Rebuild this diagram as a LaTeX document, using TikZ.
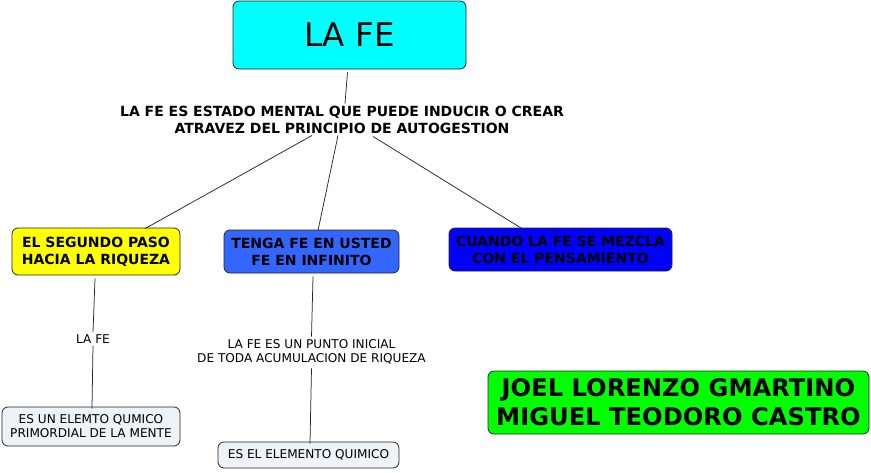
\documentclass[tikz,border=0pt]{standalone}
\usepackage{fontspec}
\setmainfont{DejaVu Sans}
\usetikzlibrary{calc}
\definecolor{cyanbox}{HTML}{00FFFF}
\definecolor{yellowbox}{HTML}{FFFF00}
\definecolor{bluebox}{HTML}{3366FF}
\definecolor{darkbluebox}{HTML}{0000FF}
\definecolor{greenbox}{HTML}{00FF00}
\definecolor{greybox}{HTML}{EEF3F7}
\tikzset{
  cbox/.style={draw=black!85, rounded corners=6pt, line width=0.8pt, align=center, inner sep=0pt},
  boldtxt/.style={font=\fontsize{14}{17}\selectfont\bfseries},
  smalltxt/.style={font=\fontsize{12.1}{14}\selectfont},
  conn/.style={draw=black!85, line width=0.75pt}
}
\begin{document}
\begin{tikzpicture}[x=1pt,y=-1pt]
\useasboundingbox (0,0) rectangle (871,472);
% main
\node[cbox, fill=cyanbox, minimum width=233pt, minimum height=68pt,
      font=\fontsize{32.5}{36}\selectfont] (main) at (349.5,35) {LA FE};
\node[boldtxt, align=center, inner sep=1pt] (lbl) at (342,119.5)
  {LA FE ES ESTADO MENTAL QUE PUEDE INDUCIR O CREAR\\ATRAVEZ DEL PRINCIPIO DE AUTOGESTION};
% level 2
\node[cbox, boldtxt, fill=yellowbox, minimum width=168pt, minimum height=47pt] (yel) at (96,251.5)
  {EL SEGUNDO PASO\\HACIA LA RIQUEZA};
\node[cbox, boldtxt, fill=bluebox, minimum width=175pt, minimum height=43pt] (blu) at (311.5,251.5)
  {TENGA FE EN USTED\\FE EN INFINITO};
\node[cbox, boldtxt, fill=darkbluebox, minimum width=223pt, minimum height=43pt] (dblu) at (560.5,249.5)
  {CUANDO LA FE SE MEZCLA\\CON EL PENSAMIENTO};
% level 3
\node[smalltxt, inner sep=1pt] (l2) at (93,339) {LA FE};
\node[smalltxt, align=center, inner sep=1pt] (l3) at (311.5,352)
  {LA FE ES UN PUNTO INICIAL\\DE TODA ACUMULACION DE RIQUEZA};
\node[cbox, smalltxt, fill=greybox, minimum width=178pt, minimum height=39pt] (g1) at (91,426.5)
  {ES UN ELEMTO QUMICO\\PRIMORDIAL DE LA MENTE};
\node[cbox, smalltxt, fill=greybox, minimum width=181pt, minimum height=26pt] (g2) at (308.5,455)
  {ES EL ELEMENTO QUIMICO};
% authors
\node[cbox, fill=greenbox, minimum width=381pt, minimum height=63pt,
      font=\fontsize{24.2}{29}\selectfont\bfseries] (auth) at (678.5,402.5)
  {JOEL LORENZO GMARTINO\\MIGUEL TEODORO CASTRO};
% connectors
\draw[conn] ([xshift=-2pt,yshift=-3pt]main.south) -- ([xshift=3pt,yshift=1pt]lbl.north);
\draw[conn] ([xshift=-30pt,yshift=-1pt]lbl.south) -- ([xshift=49pt,yshift=-1pt]yel.north);
\draw[conn] ([xshift=-4pt,yshift=-1pt]lbl.south) -- ([xshift=6.5pt,yshift=-1pt]blu.north);
\draw[conn] ([xshift=31pt,yshift=-2pt]lbl.south) -- ([xshift=-38.5pt,yshift=-1pt]dblu.north);
\draw[conn] ([xshift=-1pt,yshift=-3pt]yel.south) -- ([yshift=1pt]l2.north);
\draw[conn] ([yshift=-1pt]l2.south) -- ([xshift=1pt,yshift=-2pt]g1.north);
\draw[conn] ([xshift=1.5pt,yshift=-3pt]blu.south) -- ([yshift=2pt]l3.north);
\draw[conn] ([yshift=-3pt]l3.south) -- ([xshift=1.5pt,yshift=-2pt]g2.north);
\end{tikzpicture}
\end{document}
